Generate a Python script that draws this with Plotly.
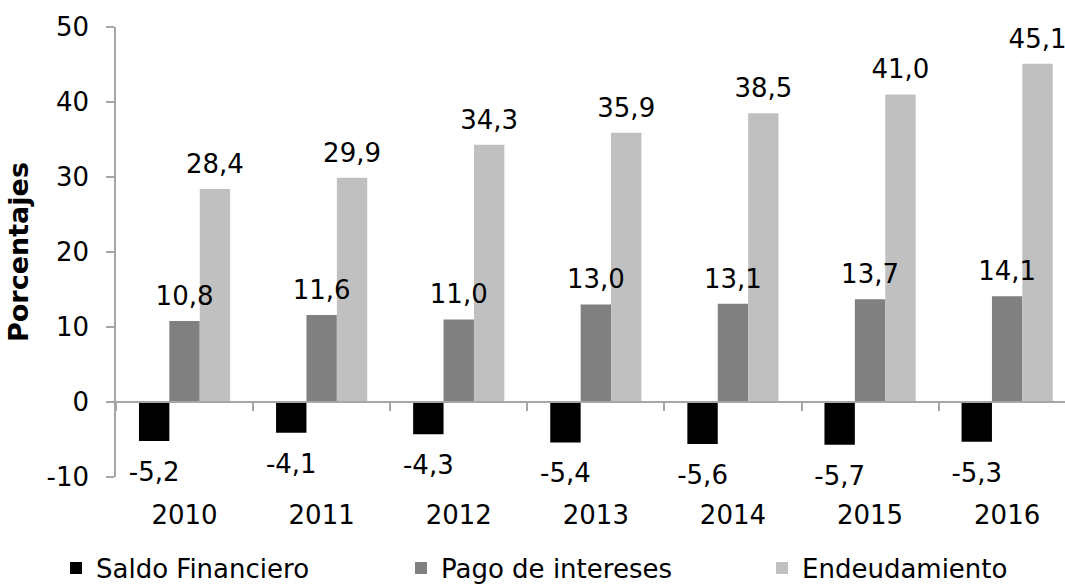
import plotly.graph_objects as go

# ---- data ----
years = ["2010", "2011", "2012", "2013", "2014", "2015", "2016"]
saldo_financiero = [-5.2, -4.1, -4.3, -5.4, -5.6, -5.7, -5.3]
pago_intereses = [10.8, 11.6, 11.0, 13.0, 13.1, 13.7, 14.1]
endeudamiento = [28.4, 29.9, 34.3, 35.9, 38.5, 41.0, 45.1]
series_names = ["Saldo Financiero", "Pago de intereses", "Endeudamiento"]
series_values = [saldo_financiero, pago_intereses, endeudamiento]
y_ticks = [-10, 0, 10, 20, 30, 40, 50]
y_title = "Porcentajes"

# ---- style ----
colors = ["#000000", "#808080", "#c0c0c0"]
axis_gray = "#a6a6a6"
FONT = "DejaVu Sans, Verdana, sans-serif"
FS = 26
bargap = 0.335
n_series = len(series_values)
bw = (1 - bargap) / n_series
y_min, y_max = y_ticks[0], y_ticks[-1]

W, H = 1065, 585
ml, mr, mt, mb = 116, 0, 27, 108
cat_px = 137.1
x_lo = -0.5
x_hi = x_lo + (W - ml - mr) / cat_px
legend_x_px = [56, 401, 762]
legend_ids = ["legend", "legend2", "legend3"]

xs = list(range(len(years)))

fig = go.Figure()
for name, vals, col, lid in zip(series_names, series_values, colors, legend_ids):
    fig.add_trace(go.Bar(
        x=xs, y=vals, name=name, marker=dict(color=col, line=dict(width=0)),
        hoverinfo="skip", legend=lid,
    ))

def fmt(v):
    return f"{v:.1f}".replace(".", ",")

for j, vals in enumerate(series_values):
    off = (j - (n_series - 1) / 2) * bw
    fig.add_trace(go.Scatter(
        x=[i + off for i in xs], y=vals,
        mode="markers+text",
        text=[fmt(v) for v in vals],
        textposition=["top center" if v >= 0 else "bottom center" for v in vals],
        marker=dict(size=[14 if v >= 0 else 31 for v in vals], opacity=0, color="white"),
        textfont=dict(family=FONT, size=FS, color="#000000"),
        showlegend=False, hoverinfo="skip", cliponaxis=False,
    ))

legend_common = dict(
    orientation="h", xref="container", yref="container",
    y=17 / H, xanchor="left", yanchor="middle",
    font=dict(family=FONT, size=FS, color="#000000"),
    bgcolor="rgba(0,0,0,0)",
)

fig.update_layout(
    width=W, height=H,
    margin=dict(l=ml, r=mr, t=mt, b=mb, autoexpand=False),
    paper_bgcolor="white", plot_bgcolor="white",
    font=dict(family=FONT, size=FS, color="#000000"),
    barmode="group", bargap=bargap, bargroupgap=0,
    showlegend=True,
    legend=dict(x=legend_x_px[0] / W, **legend_common),
    legend2=dict(x=legend_x_px[1] / W, **legend_common),
    legend3=dict(x=legend_x_px[2] / W, **legend_common),
    xaxis=dict(
        range=[x_lo, x_hi], anchor="free",
        position=(0 - y_min) / (y_max - y_min),
        tickmode="array", tickvals=xs, ticktext=years, ticks="",
        showline=True, linecolor=axis_gray, linewidth=1.5,
        showgrid=False, zeroline=False,
        ticklabelstandoff=90,
        tickfont=dict(family=FONT, size=FS, color="#000000"),
        minor=dict(tickmode="array", tickvals=[i - 0.5 for i in range(len(years) + 1)],
                   ticks="outside", ticklen=8, tickwidth=1.5, tickcolor=axis_gray,
                   showgrid=False),
        fixedrange=True,
    ),
    yaxis=dict(
        range=[y_min, y_max], tickmode="array", tickvals=y_ticks,
        ticktext=[str(v) for v in y_ticks],
        ticks="outside", ticklen=8, tickwidth=1.5, tickcolor=axis_gray,
        showline=True, linecolor=axis_gray, linewidth=1.5,
        showgrid=False, zeroline=False,
        ticklabelstandoff=12,
        tickfont=dict(family=FONT, size=FS, color="#000000"),
        title=dict(text=y_title, standoff=10,
                   font=dict(family=FONT, size=27, color="#000000", weight="bold")),
        fixedrange=True,
    ),
)

fig.write_html("out.html", config={"displayModeBar": False})
